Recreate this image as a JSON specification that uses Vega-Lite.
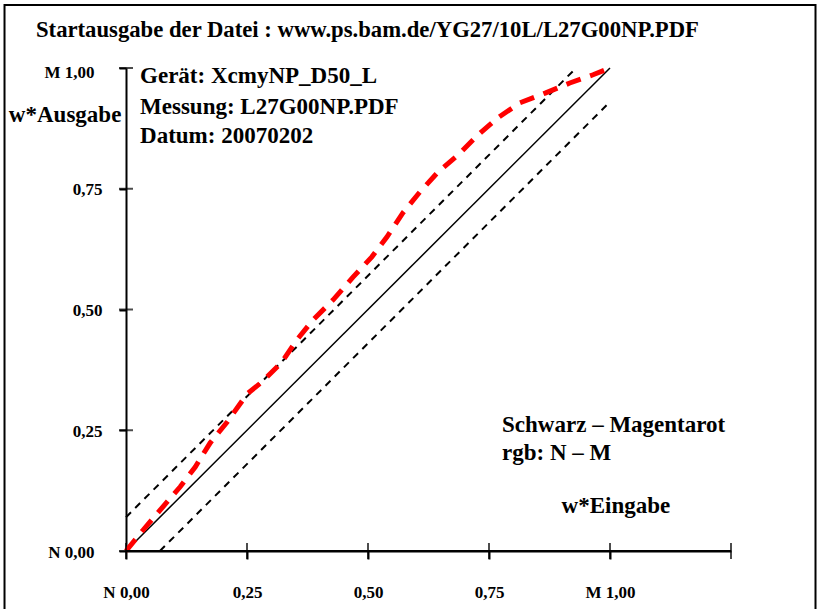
{
  "$schema": "https://vega.github.io/schema/vega-lite/v6.json",
  "width": 605,
  "height": 483,
  "autosize": "none",
  "padding": {"left": 126, "top": 68, "right": 90, "bottom": 58},
  "config": {
    "view": {"stroke": null},
    "font": "Liberation Serif",
    "text": {"font": "Liberation Serif", "fontWeight": "bold"}
  },
  "datasets": {
    "diag": [{"x": 0, "y": 0}, {"x": 1, "y": 1}],
    "upper": [{"x": 0, "y": 0.07}, {"x": 0.93, "y": 1.0}],
    "lower": [{"x": 0.07, "y": 0}, {"x": 1.0, "y": 0.93}],
    "measured": [
      {"x": 0, "y": 0}, {"x": 0.035, "y": 0.043}, {"x": 0.074, "y": 0.089}, {"x": 0.112, "y": 0.133},
      {"x": 0.143, "y": 0.174}, {"x": 0.174, "y": 0.224}, {"x": 0.209, "y": 0.267}, {"x": 0.25, "y": 0.325},
      {"x": 0.281, "y": 0.35}, {"x": 0.322, "y": 0.391}, {"x": 0.353, "y": 0.437}, {"x": 0.386, "y": 0.478},
      {"x": 0.428, "y": 0.52}, {"x": 0.469, "y": 0.567}, {"x": 0.508, "y": 0.609}, {"x": 0.539, "y": 0.65},
      {"x": 0.572, "y": 0.7}, {"x": 0.607, "y": 0.743}, {"x": 0.645, "y": 0.785}, {"x": 0.686, "y": 0.82},
      {"x": 0.727, "y": 0.861}, {"x": 0.767, "y": 0.896}, {"x": 0.814, "y": 0.928}, {"x": 0.866, "y": 0.948},
      {"x": 0.917, "y": 0.969}, {"x": 0.965, "y": 0.986}, {"x": 1.0, "y": 1.0}
    ],
    "xticks": [{"v": 0}, {"v": 0.25}, {"v": 0.5}, {"v": 0.75}, {"v": 1.0}, {"v": 1.25}],
    "yticks": [{"v": 0}, {"v": 0.25}, {"v": 0.5}, {"v": 0.75}, {"v": 1.0}],
    "labels": [
      {"t": "Startausgabe der Datei : www.ps.bam.de/YG27/10L/L27G00NP.PDF", "x": -0.186, "y": 1.064, "s": 22.7},
      {"t": "Gerät: XcmyNP_D50_L", "x": 0.029, "y": 0.969, "s": 23},
      {"t": "Messung: L27G00NP.PDF", "x": 0.029, "y": 0.905, "s": 23},
      {"t": "Datum: 20070202", "x": 0.029, "y": 0.845, "s": 23},
      {"t": "w*Ausgabe", "x": -0.242, "y": 0.888, "s": 23},
      {"t": "Schwarz – Magentarot", "x": 0.777, "y": 0.2464, "s": 23},
      {"t": "rgb: N – M", "x": 0.777, "y": 0.1884, "s": 23},
      {"t": "w*Eingabe", "x": 0.9, "y": 0.0787, "s": 23}
    ]
  },
  "layer": [
    {
      "data": {"name": "diag"},
      "mark": {"type": "line", "color": "black", "strokeWidth": 1.5},
      "encoding": {
        "x": {
          "field": "x", "type": "quantitative",
          "scale": {"domain": [0, 1.25], "nice": false, "zero": false},
          "axis": {
            "values": [0, 0.25, 0.5, 0.75, 1.0],
            "title": null, "grid": false,
            "domain": true, "domainColor": "black", "domainWidth": 2,
            "ticks": true, "tickSize": 8, "tickWidth": 2, "tickColor": "black",
            "labelExpr": "datum.value == 0 ? 'N 0,00' : datum.value == 1 ? 'M 1,00' : replace(format(datum.value, '.2f'), '.', ',')",
            "labelFont": "Liberation Serif", "labelFontWeight": "bold", "labelFontSize": 17, "labelColor": "black",
            "labelBaseline": "middle", "labelPadding": 33, "labelFlush": false, "labelOverlap": false
          }
        },
        "y": {
          "field": "y", "type": "quantitative",
          "scale": {"domain": [0, 1], "nice": false, "zero": false},
          "axis": {
            "values": [0, 0.25, 0.5, 0.75, 1.0],
            "title": null, "grid": false,
            "domain": true, "domainColor": "black", "domainWidth": 2,
            "ticks": true, "tickSize": 7, "tickWidth": 2, "tickColor": "black",
            "labelExpr": "datum.value == 0 ? 'N 0,00' : datum.value == 1 ? 'M 1,00' : replace(format(datum.value, '.2f'), '.', ',')",
            "labelFont": "Liberation Serif", "labelFontWeight": "bold", "labelFontSize": 17, "labelColor": "black",
            "labelAlign": "right", "labelBaseline": "middle",
            "labelPadding": {"condition": {"test": "datum.value == 0 || datum.value == 1", "value": 25}, "value": 17},
            "labelOffset": {"condition": {"test": "datum.value == 1", "value": 4}, "value": 1},
            "labelFlush": false, "labelOverlap": false
          }
        }
      }
    },
    {
      "data": {"name": "upper"},
      "mark": {"type": "line", "color": "black", "strokeWidth": 2, "strokeDash": [7, 6]},
      "encoding": {"x": {"field": "x", "type": "quantitative"}, "y": {"field": "y", "type": "quantitative"}}
    },
    {
      "data": {"name": "lower"},
      "mark": {"type": "line", "color": "black", "strokeWidth": 2, "strokeDash": [7, 6]},
      "encoding": {"x": {"field": "x", "type": "quantitative"}, "y": {"field": "y", "type": "quantitative"}}
    },
    {
      "data": {"name": "measured"},
      "mark": {"type": "line", "color": "#ff0000", "strokeWidth": 5, "strokeDash": [15, 10]},
      "encoding": {"x": {"field": "x", "type": "quantitative"}, "y": {"field": "y", "type": "quantitative"}}
    },
    {
      "data": {"name": "xticks"},
      "mark": {"type": "tick", "color": "black", "orient": "vertical", "size": 16, "thickness": 2},
      "encoding": {"x": {"field": "v", "type": "quantitative"}, "y": {"datum": 0, "type": "quantitative"}}
    },
    {
      "data": {"name": "yticks"},
      "mark": {"type": "tick", "color": "black", "orient": "horizontal", "size": 14, "thickness": 2},
      "encoding": {"y": {"field": "v", "type": "quantitative"}, "x": {"datum": 0, "type": "quantitative"}}
    },
    {
      "data": {"values": [{"a": 1}]},
      "mark": {"type": "rule", "color": "black", "strokeWidth": 2},
      "encoding": {"x": {"datum": 0, "type": "quantitative"}, "x2": {"datum": 1.25}, "y": {"datum": 0, "type": "quantitative"}}
    },
    {
      "data": {"values": [{"a": 1}]},
      "mark": {"type": "rect", "fill": null, "fillOpacity": 0, "stroke": "black", "strokeWidth": 2},
      "encoding": {
        "x": {"datum": -0.251, "type": "quantitative"}, "x2": {"datum": 1.4246},
        "y": {"datum": 1.1304, "type": "quantitative"}, "y2": {"datum": -0.1325}
      }
    },
    {
      "data": {"name": "labels"},
      "mark": {"type": "text", "align": "left", "baseline": "alphabetic", "color": "black", "font": "Liberation Serif", "fontWeight": "bold"},
      "encoding": {
        "x": {"field": "x", "type": "quantitative"},
        "y": {"field": "y", "type": "quantitative"},
        "text": {"field": "t"},
        "size": {"field": "s", "type": "quantitative", "scale": null, "legend": null}
      }
    }
  ]
}
